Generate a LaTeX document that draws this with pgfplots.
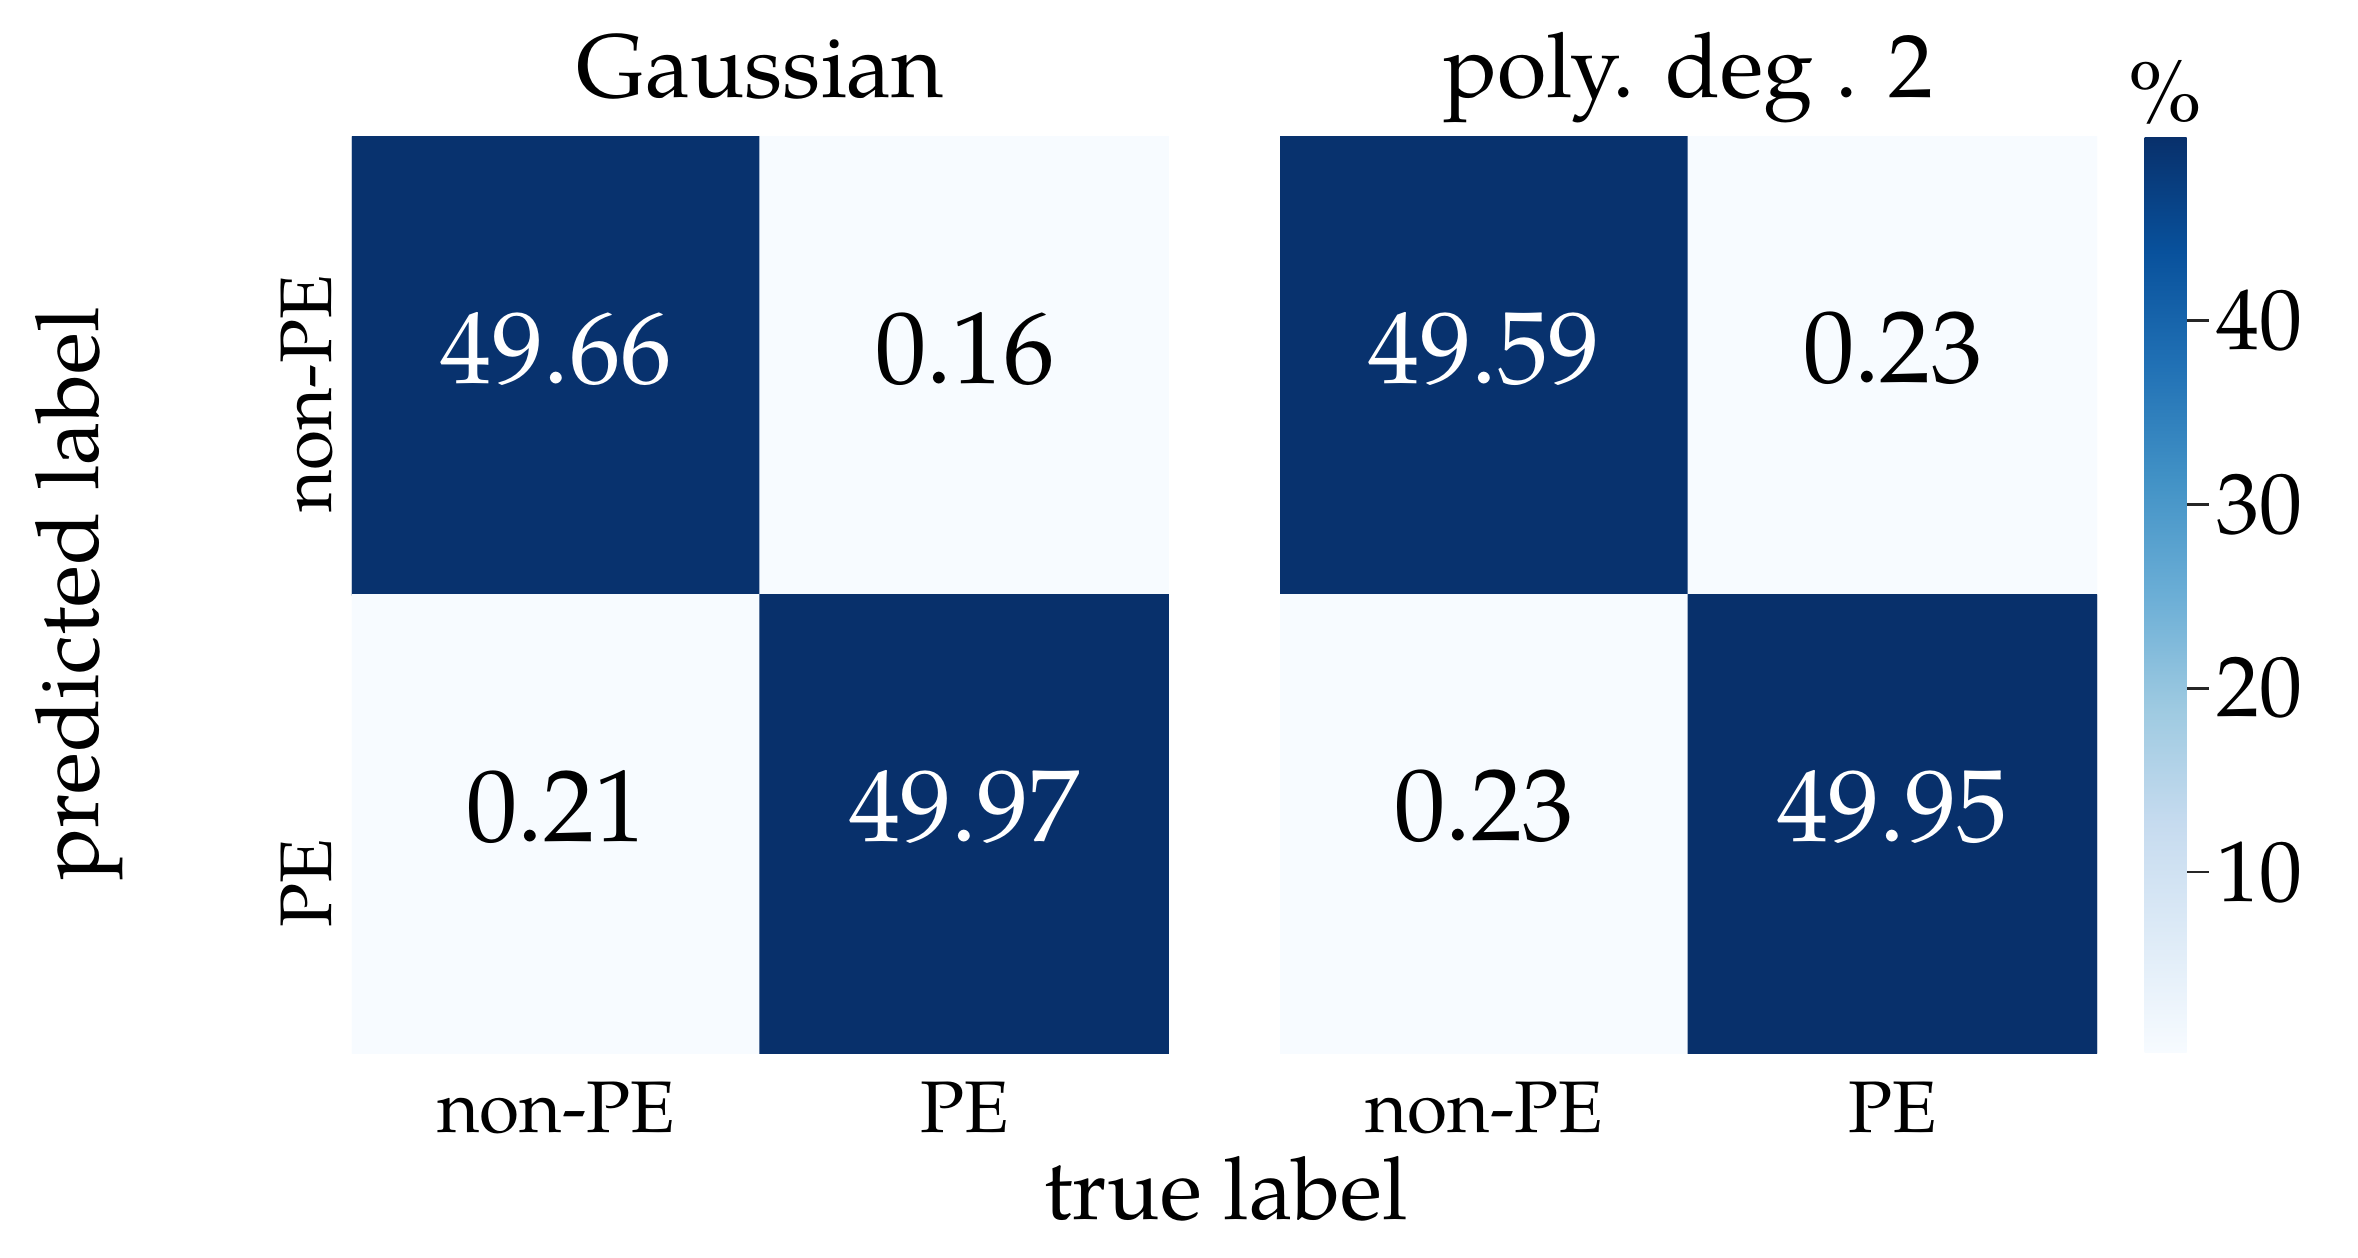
\documentclass[border=0pt]{standalone}
\usepackage{fontspec}
\setmainfont{TeX Gyre Pagella}
\usepackage{pgfplots}
\pgfplotsset{compat=1.18}

\pgfplotsset{
  colormap={blues}{rgb255=(247,251,255) rgb255=(222,235,247) rgb255=(198,219,239) rgb255=(158,202,225) rgb255=(107,174,214) rgb255=(66,146,198) rgb255=(33,113,181) rgb255=(8,81,156) rgb255=(8,48,107)},
  hm/.style={
    scale only axis, width=163.4pt, height=183.2pt, anchor=south west,
    xmin=-0.5, xmax=1.5, ymin=-0.5, ymax=1.5, y dir=reverse,
    axis line style={draw=none}, major tick length=0pt,
    xtick={0,1}, xticklabels={non-PE,PE},
    xticklabel style={font=\fontsize{14.6}{17}\selectfont, anchor=base, yshift=-15.8pt},
    colormap name=blues, point meta min=0.16, point meta max=49.97,
    title style={font=\fontsize{18}{21}\selectfont, anchor=base, at={(0.5,1)}, yshift=1.9pt},
  },
  cellw/.style={draw=none, mark=none, nodes near coords, point meta=explicit symbolic,
    nodes near coords style={font=\fontsize{20.5}{24}\selectfont, text=white, anchor=center, yshift=3.5pt, inner sep=0pt}},
  cellb/.style={draw=none, mark=none, nodes near coords, point meta=explicit symbolic,
    nodes near coords style={font=\fontsize{20.5}{24}\selectfont, text=black, anchor=center, yshift=3.5pt, inner sep=0pt}},
}

\begin{document}
\begin{tikzpicture}
\begin{axis}[hm, at={(70.4pt,41pt)}, title={Gaussian},
  ytick={0.061,1.129}, yticklabels={non-PE,PE},
  yticklabel style={font=\fontsize{14.6}{17}\selectfont, xshift=-4.2pt, rotate=90, anchor=base}]
\addplot[matrix plot*, mesh/cols=2, point meta=explicit] table[row sep=\\, meta=c] {
x y c \\ 0 0 49.66 \\ 1 0 0.16 \\ 0 1 0.21 \\ 1 1 49.97 \\
};
\addplot[cellw] table[row sep=\\, meta=l] {x y l \\ 0 0 49.66 \\ 1 1 49.97 \\};
\addplot[cellb] table[row sep=\\, meta=l] {x y l \\ 1 0 0.16 \\ 0 1 0.21 \\};
\end{axis}

\begin{axis}[hm, at={(256pt,41pt)}, title={poly. deg . 2},
  ytick=\empty,
  colorbar,
  colorbar style={
    at={(parent axis.north east)}, anchor=north west, xshift=1pt,
    width=8.4pt,
    ytick={10,20,30,40},
    axis line style={draw=none},
    major tick length=4.4pt, tick align=outside, ytick pos=right,
    tick style={black!85, line width=0.55pt},
    yticklabel style={font=\fontsize{17.2}{20}\selectfont, xshift=-2pt},
    /pgf/number format/assume math mode=true,
    title={\%}, title style={font=\fontsize{17.5}{20}\selectfont, anchor=base, at={(0.5,1)}, yshift=-3.1pt},
  }]
\addplot[matrix plot*, mesh/cols=2, point meta=explicit] table[row sep=\\, meta=c] {
x y c \\ 0 0 49.59 \\ 1 0 0.23 \\ 0 1 0.23 \\ 1 1 49.95 \\
};
\addplot[cellw] table[row sep=\\, meta=l] {x y l \\ 0 0 49.59 \\ 1 1 49.95 \\};
\addplot[cellb] table[row sep=\\, meta=l] {x y l \\ 1 0 0.23 \\ 0 1 0.23 \\};
\end{axis}

\node[rotate=90, anchor=base, font=\fontsize{17.4}{20}\selectfont] at (19.6pt,132.8pt) {predicted label};
\node[anchor=base, font=\fontsize{17.4}{20}\selectfont] at (245.2pt,7.6pt) {true label};

\pgfresetboundingbox
\useasboundingbox (0,0) rectangle (471.6pt,251.6pt);
\end{tikzpicture}
\end{document}
